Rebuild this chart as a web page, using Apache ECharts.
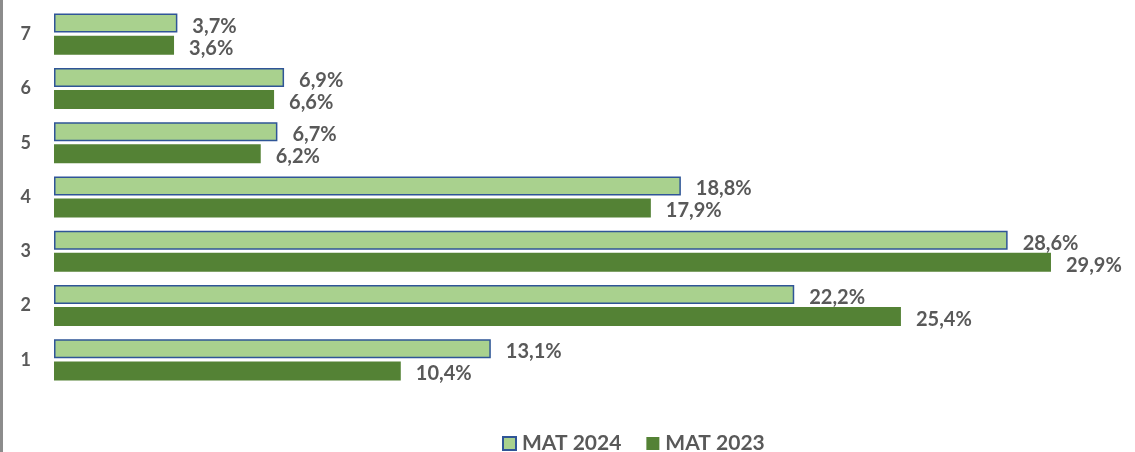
<!DOCTYPE html>
<html>
<head>
<meta charset="utf-8">
<script src="https://cdn.jsdelivr.net/npm/echarts@6/dist/echarts.min.js"></script>
<style>html,body{margin:0;padding:0;background:#fff}#c{width:1135px;height:452px}</style>
</head>
<body>
<div id="c"></div>
<script>
const categories = ['1', '2', '3', '4', '5', '6', '7'];
const mat2024 = [13.1, 22.2, 28.6, 18.8, 6.7, 6.9, 3.7];
const mat2023 = [10.4, 25.4, 29.9, 17.9, 6.2, 6.6, 3.6];

const FONT = 'Lato';
const TXT = '#595959';
const fmt = p => p.value.toFixed(1).replace('.', ',') + '%';

const chart = echarts.init(document.getElementById('c'));
chart.setOption({
  animation: false,
  textStyle: { fontFamily: FONT },
  grid: { left: 54, right: 14, top: 7, bottom: 65, containLabel: false },
  xAxis: {
    type: 'value', min: 0, max: 32,
    show: false
  },
  yAxis: {
    type: 'category',
    data: categories,
    axisLine: { show: false },
    axisTick: { show: false },
    axisLabel: { color: TXT, fontSize: 18, fontWeight: 'bold', fontFamily: FONT, margin: 23 }
  },
  legend: {
    top: 428, left: 497,
    icon: 'rect',
    itemWidth: 13, itemHeight: 13, itemGap: 25,
    data: ['MAT 2024', 'MAT 2023'],
    textStyle: { color: TXT, fontSize: 21, fontWeight: 'bold', fontFamily: FONT, padding: [0, 0, 0, 1] }
  },
  graphic: [{
    type: 'rect', left: 0, top: 0,
    shape: { width: 3, height: 452 },
    style: { fill: '#8c8c8c' }
  }],
  series: [
    {
      name: 'MAT 2024', type: 'bar', data: mat2024,
      barWidth: 19, barGap: '16%',
      itemStyle: { color: '#A9D18E', borderColor: '#2F5597', borderWidth: 1.5 },
      label: { show: true, position: 'right', distance: 15, offset: [0, 3], formatter: fmt,
        color: TXT, fontSize: 20, fontWeight: 'bold', fontFamily: FONT }
    },
    {
      name: 'MAT 2023', type: 'bar', data: mat2023,
      barWidth: 19, barGap: '16%',
      itemStyle: { color: '#548235' },
      label: { show: true, position: 'right', distance: 15, offset: [0, 3], formatter: fmt,
        color: TXT, fontSize: 20, fontWeight: 'bold', fontFamily: FONT }
    }
  ]
});
</script>
</body>
</html>
